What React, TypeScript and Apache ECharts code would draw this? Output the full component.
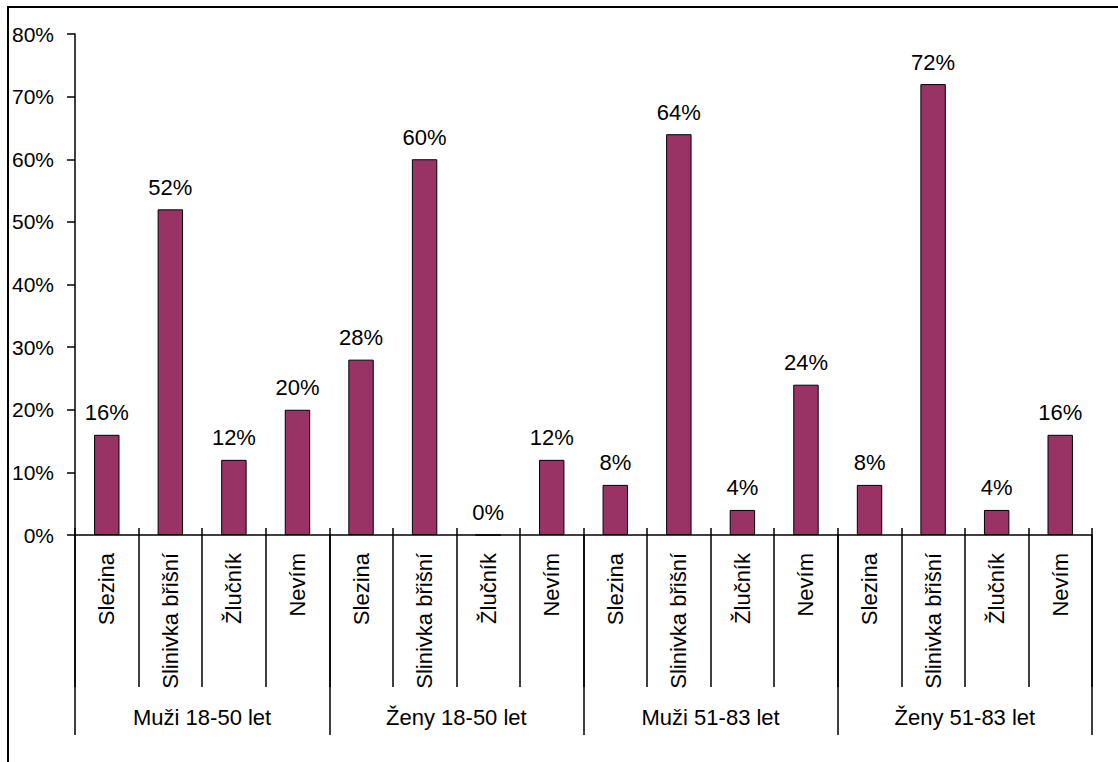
import React, { useEffect, useRef } from "react";
import * as echarts from "echarts";

const groups = ["Muži 18-50 let", "Ženy 18-50 let", "Muži 51-83 let", "Ženy 51-83 let"];
const organs = ["Slezina", "Slinivka břišní", "Žlučník", "Nevím"];
const values = [16, 52, 12, 20, 28, 60, 0, 12, 8, 64, 4, 24, 8, 72, 4, 16];
const yTicks = { min: 0, max: 80, interval: 10 };

const categories = groups.flatMap(() => organs.map((o) => o));
const FONT = "'Liberation Sans', Arial, sans-serif";
const BAR = "#993366";

export default function App() {
  const ref = useRef<HTMLDivElement>(null);
  useEffect(() => {
    if (!ref.current) return;
    const chart = echarts.init(ref.current, undefined, { renderer: "svg" });
    const line = { color: "#000", width: 1.5 };
    chart.setOption({
      animation: false,
      backgroundColor: "#fff",
      textStyle: { fontFamily: FONT, color: "#000" },
      grid: { left: 75, top: 34, width: 1017, height: 501, containLabel: false },
      graphic: [
        {
          type: "polyline",
          shape: { points: [[8, 762], [8, 7], [1118, 7]] },
          style: { stroke: "#000", lineWidth: 2, fill: "none" },
        },
      ],
      xAxis: [
        {
          type: "category",
          data: categories,
          position: "bottom",
          axisLine: { show: true, lineStyle: line },
          axisTick: { show: true, inside: true, length: 7, interval: 0, lineStyle: line },
          axisLabel: {
            interval: 0,
            rotate: 90,
            margin: 18,
            fontSize: 22,
            color: "#000",
            fontFamily: FONT,
          },
        },
        {
          type: "category",
          data: categories,
          position: "bottom",
          axisLine: { show: false },
          axisTick: { show: true, inside: false, length: 152, interval: 0, lineStyle: line },
          axisLabel: { show: false },
        },
        {
          type: "category",
          data: groups,
          position: "bottom",
          axisLine: { show: false },
          axisTick: { show: true, inside: false, length: 200, interval: 0, lineStyle: line },
          axisLabel: {
            interval: 0,
            margin: 171,
            fontSize: 22,
            color: "#000",
            fontFamily: FONT,
          },
        },
      ],
      yAxis: {
        type: "value",
        min: yTicks.min,
        max: yTicks.max,
        interval: yTicks.interval,
        axisLine: { show: true, lineStyle: line },
        axisTick: { show: true, inside: false, length: 8, lineStyle: line },
        splitLine: { show: false },
        axisLabel: {
          formatter: "{value}%",
          margin: 21,
          fontSize: 21,
          color: "#000",
          fontFamily: FONT,
        },
      },
      series: [
        {
          type: "bar",
          xAxisIndex: 0,
          data: values,
          barWidth: "40%",
          itemStyle: { color: BAR, borderColor: "#000", borderWidth: 1 },
          label: {
            show: true,
            position: "top",
            distance: 11,
            formatter: "{c}%",
            fontSize: 22,
            color: "#000",
            fontFamily: FONT,
          },
        },
      ],
    });
    return () => chart.dispose();
  }, []);
  return (
    <div
      ref={ref}
      style={{ position: "absolute", left: 0, top: 0, width: 1118, height: 762 }}
    />
  );
}
